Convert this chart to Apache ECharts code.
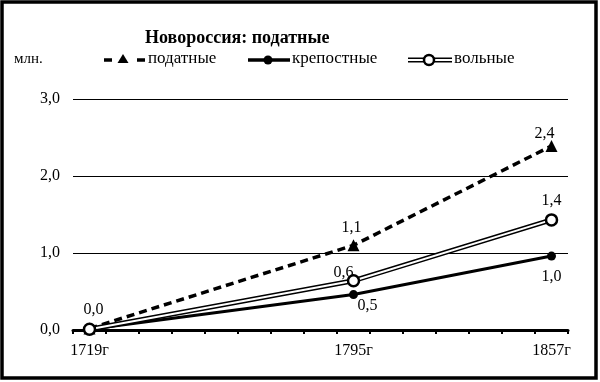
<!DOCTYPE html>
<html>
<head>
<meta charset="utf-8">
<script src="https://cdn.jsdelivr.net/npm/echarts@6/dist/echarts.min.js"></script>
<style>html,body{margin:0;padding:0;background:#fff;}#c{width:600px;height:382px;}</style>
</head>
<body>
<div id="c"></div>
<script>
// ---- data ----
const years = ['1719г', '1795г', '1857г'];
const yearSlot = [0, 8, 14];          // category slot of each year on the axis
const axisSlots = 15;                 // number of tick intervals on the x axis
const podatnye = [0.02, 1.10, 2.39];
const krepostnye = [0.01, 0.46, 0.96];
const volnye = [0.01, 0.64, 1.43];
const yTicks = [0, 1, 2, 3];

// ---- build ----
const categories = [];
for (let i = 0; i < axisSlots; i++) categories.push('');
yearSlot.forEach((s, i) => { categories[s] = years[i]; });

const FONT = 'Liberation Serif';
const fmt = v => (Math.round(v * 10) / 10).toFixed(1).replace('.', ',');

function build(values, labelOffsets) {
  const arr = [];
  for (let i = 0; i < axisSlots; i++) arr.push(null);
  yearSlot.forEach((s, i) => {
    const off = labelOffsets[i];
    arr[s] = {
      value: values[i],
      label: off ? { show: true, position: 'inside', offset: off } : { show: false }
    };
  });
  return arr;
}

const labelStyle = {
  show: true, color: '#000', fontFamily: FONT, fontSize: 16,
  formatter: p => fmt(p.value)
};

const chart = echarts.init(document.getElementById('c'), null, { renderer: 'canvas' });
chart.setOption({
  animation: false,
  backgroundColor: '#fff',
  title: {
    text: 'Новороссия: податные',
    left: 140, top: 24,
    textStyle: { fontFamily: FONT, fontWeight: 'bold', fontSize: 18, color: '#000' }
  },
  grid: { left: 73, right: 32, top: 99, bottom: 52 },
  xAxis: {
    type: 'category',
    data: categories,
    boundaryGap: true,
    axisLine: { lineStyle: { color: '#000', width: 3 } },
    axisTick: { show: true, interval: 0, length: 4, lineStyle: { color: '#000', width: 2 } },
    axisLabel: { interval: 0, margin: 13, color: '#000', fontFamily: FONT, fontSize: 16 },
    splitLine: { show: false }
  },
  yAxis: {
    type: 'value',
    min: yTicks[0], max: yTicks[yTicks.length - 1], interval: 1,
    axisLine: { show: false },
    axisTick: { show: false },
    axisLabel: { margin: 13, color: '#000', fontFamily: FONT, fontSize: 16, formatter: v => fmt(v) },
    splitLine: { lineStyle: { color: '#000', width: 1 } }
  },
  series: [
    {
      name: 'податные', type: 'line', connectNulls: true,
      data: build(podatnye, [null, [-2, -18], [-7, -12]]),
      lineStyle: { color: '#000', width: 3.5, type: [8, 5] },
      symbol: 'triangle', symbolSize: 12, showAllSymbol: true,
      itemStyle: { color: '#000' },
      label: labelStyle, z: 3
    },
    {
      name: 'крепостные', type: 'line', connectNulls: true,
      data: build(krepostnye, [null, [14, 11], [0, 21]]),
      lineStyle: { color: '#000', width: 3 },
      symbol: 'circle', symbolSize: 9, showAllSymbol: true,
      itemStyle: { color: '#000' },
      label: labelStyle, z: 4
    },
    {
      name: 'вольные', type: 'line', connectNulls: true,
      data: build(volnye, [null, null, null]),
      lineStyle: { color: '#000', width: 5 },
      symbol: 'none',
      z: 5
    },
    {
      name: 'вольные', type: 'line', connectNulls: true,
      data: build(volnye, [[4, -19], [-10, -8], [0, -19]]),
      lineStyle: { color: '#fff', width: 2 },
      symbol: 'circle', symbolSize: 11, showAllSymbol: true,
      itemStyle: { color: '#fff', borderColor: '#000', borderWidth: 2.5 },
      label: labelStyle, z: 6
    }
  ],
  graphic: [
    { type: 'rect', shape: { x: 2, y: 2, width: 594, height: 376 }, style: { fill: 'none', stroke: '#000', lineWidth: 3.5 }, silent: true },
    { type: 'text', left: 14, top: 52, style: { text: 'млн.', font: '15px "Liberation Serif"', fill: '#000' } },
    // legend: податные
    { type: 'line', shape: { x1: 104, y1: 60, x2: 145, y2: 60 }, style: { stroke: '#000', lineWidth: 3.5, lineDash: [8, 25] } },
    { type: 'polygon', shape: { points: [[123, 54], [117.5, 63], [128.5, 63]] }, style: { fill: '#000' } },
    { type: 'text', left: 148, top: 50, style: { text: 'податные', font: '17px "Liberation Serif"', fill: '#000' } },
    // legend: крепостные
    { type: 'line', shape: { x1: 248, y1: 60, x2: 290, y2: 60 }, style: { stroke: '#000', lineWidth: 3.5 } },
    { type: 'circle', shape: { cx: 268, cy: 60, r: 4.5 }, style: { fill: '#000' } },
    { type: 'text', left: 292, top: 50, style: { text: 'крепостные', font: '17px "Liberation Serif"', fill: '#000' } },
    // legend: вольные
    { type: 'line', shape: { x1: 408, y1: 60, x2: 452, y2: 60 }, style: { stroke: '#000', lineWidth: 5 } },
    { type: 'line', shape: { x1: 408, y1: 60, x2: 452, y2: 60 }, style: { stroke: '#fff', lineWidth: 2 } },
    { type: 'circle', shape: { cx: 429, cy: 60, r: 5 }, style: { fill: '#fff', stroke: '#000', lineWidth: 2.5 } },
    { type: 'text', left: 454, top: 50, style: { text: 'вольные', font: '17px "Liberation Serif"', fill: '#000' } }
  ]
});
</script>
</body>
</html>
